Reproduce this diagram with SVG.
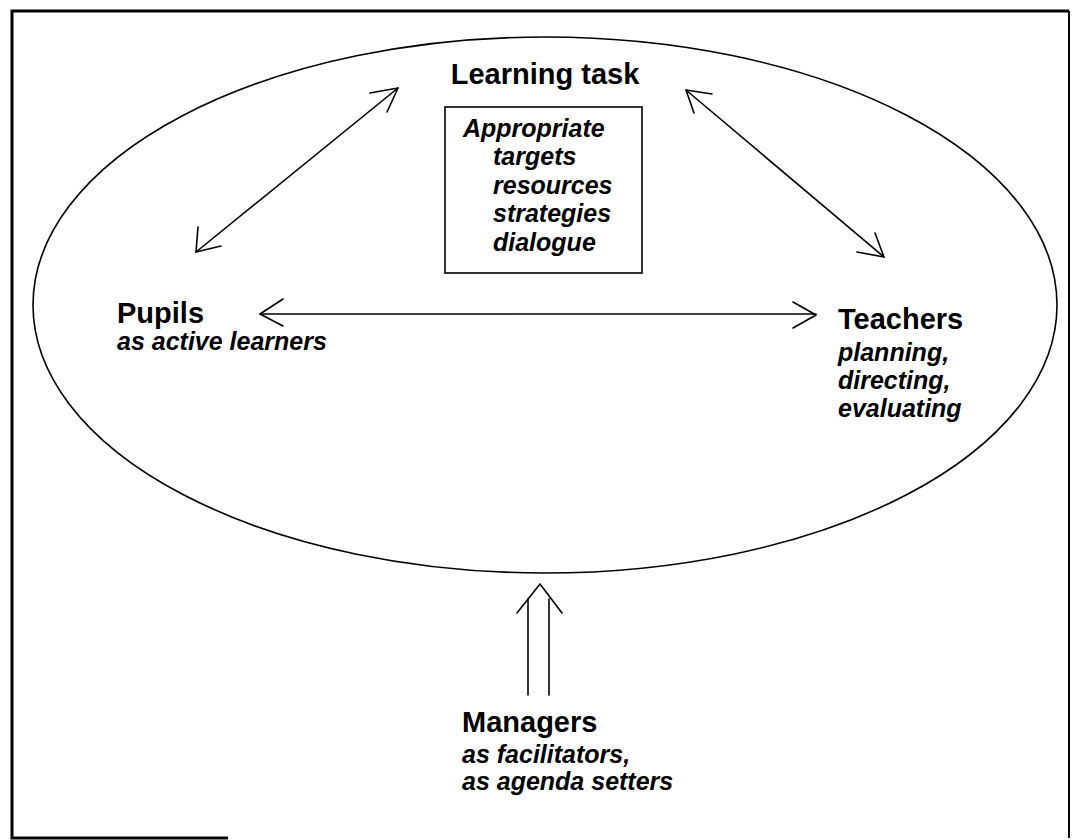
<svg xmlns="http://www.w3.org/2000/svg" width="1072" height="840" viewBox="0 0 1072 840">
  <style>
    .frame { fill: none; stroke: #000; stroke-width: 3; }
    .outline { fill: none; stroke: #000; stroke-width: 1.6; }
    .line { fill: none; stroke: #000; stroke-width: 1.6; stroke-linecap: round; stroke-linejoin: round; }
    .title { font-family: "Liberation Sans", Arial, sans-serif; font-weight: bold; font-size: 29px; fill: #000; }
    .sub { font-family: "Liberation Sans", Arial, sans-serif; font-weight: bold; font-style: italic; font-size: 25px; fill: #000; }
  </style>
  <rect width="1072" height="840" fill="#fff"/>

  <!-- outer frame -->
  <path class="frame" d="M228,838 H12 V11 H1069"/>
  <path d="M1069,11 V838" fill="none" stroke="#000" stroke-width="2"/>

  <!-- the learning environment -->
  <ellipse class="outline" cx="545" cy="305" rx="512" ry="268"/>

  <g id="learning-task">
    <text class="title" x="545" y="84" text-anchor="middle">Learning task</text>
    <rect class="outline" x="445" y="107" width="197" height="166"/>
    <text class="sub" x="463" y="137">Appropriate</text>
    <text class="sub" x="493" y="165">targets</text>
    <text class="sub" x="493" y="194">resources</text>
    <text class="sub" x="493" y="222">strategies</text>
    <text class="sub" x="493" y="251">dialogue</text>
  </g>

  <g id="pupils">
    <text class="title" x="117" y="323">Pupils</text>
    <text class="sub" x="117" y="350">as active learners</text>
  </g>

  <g id="teachers">
    <text class="title" x="838" y="329">Teachers</text>
    <text class="sub" x="838" y="361">planning,</text>
    <text class="sub" x="838" y="389">directing,</text>
    <text class="sub" x="838" y="417">evaluating</text>
  </g>

  <g id="managers">
    <text class="title" x="462" y="732">Managers</text>
    <text class="sub" x="462" y="763">as facilitators,</text>
    <text class="sub" x="462" y="790">as agenda setters</text>
  </g>

  <g id="connectors">
    <!-- pupils <-> teachers -->
    <path class="line" d="M260,314 H816"/>
    <path class="line" d="M283,299 L260,314 L283,326"/>
    <path class="line" d="M793,302 L816,315 L793,328"/>

    <!-- pupils <-> learning task -->
    <path class="line" d="M398,88 L196,252"/>
    <path class="line" d="M370,93 L398,88 L387,112"/>
    <path class="line" d="M198,227 L196,252 L221,246"/>

    <!-- learning task <-> teachers -->
    <path class="line" d="M686,90 L884,257"/>
    <path class="line" d="M712,94 L686,90 L694,113"/>
    <path class="line" d="M857,252 L884,257 L875,233"/>

    <!-- managers support the whole -->
    <path class="line" d="M528,695 V599"/>
    <path class="line" d="M549,695 V599"/>
    <path class="line" d="M517,613 L540,584 L562,613"/>
  </g>
</svg>
